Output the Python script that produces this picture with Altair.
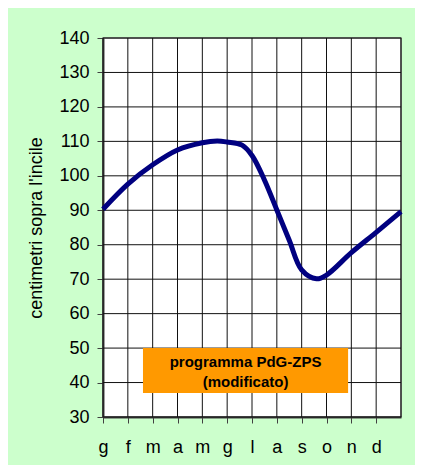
import json
import altair as alt
import pandas as pd

# --- data ---
months = ["g", "f", "m", "a", "m", "g", "l", "a", "s", "o", "n", "d"]
pos = [0, 1, 2, 3, 4, 4.6, 5, 5.6, 6, 6.5, 7, 7.5, 8, 8.6, 9, 10, 11, 12]
level = [90.3, 97.6, 103.2, 107.5, 109.6, 110.1, 109.8, 108.9, 105.9, 98.8,
         90.1, 81.3, 72.7, 70.1, 71.2, 77.7, 83.6, 89.6]
box_x = [1.61, 9.87]
box_y = [37.0, 50.0]
box_lines = ["programma PdG-ZPS", "(modificato)"]
box_line_y = [46.0, 40.2]
y_ticks = list(range(30, 141, 10))

df = pd.DataFrame({"pos": pos, "level": level})
box_df = pd.DataFrame({"x": [box_x[0]], "x2": [box_x[1]], "y": [box_y[0]], "y2": [box_y[1]]})
txt_df = pd.DataFrame({"x": [(box_x[0] + box_x[1]) / 2] * 2, "y": box_line_y, "t": box_lines})

FONT = "Liberation Sans"
label_expr = "datum.value < 12 ? " + json.dumps(months) + "[datum.value] : ''"

xscale = alt.Scale(domain=[0, 12], nice=False, zero=False)
yscale = alt.Scale(domain=[30, 140], nice=False, zero=False)

xaxis = alt.Axis(values=list(range(12)), labelExpr=label_expr, title=None,
                 grid=False, labelFontSize=18, labelPadding=15, tickSize=6,
                 labelFont=FONT, labelColor="black", tickColor="#404040",
                 domainColor="#404040", domainWidth=2, labelFlush=False,
                 labelOverlap=False)
yaxis = alt.Axis(values=y_ticks, title="centimetri sopra l'incile", grid=False,
                 labelFontSize=18, labelPadding=8, tickSize=6, labelFont=FONT,
                 labelColor="black", tickColor="#404040", domainColor="#404040",
                 domainWidth=2, titleFont=FONT, titleFontSize=18,
                 titleFontWeight="normal", titleColor="black", titleX=-67,
                 titleBaseline="middle", labelOverlap=False, labelFlush=False)

grid_x = alt.Chart(pd.DataFrame({"g": list(range(13))})).mark_rule(
    color="#111111", strokeWidth=1).encode(x=alt.X("g:Q", scale=xscale, axis=xaxis))
grid_y = alt.Chart(pd.DataFrame({"g": y_ticks})).mark_rule(
    color="#111111", strokeWidth=1).encode(y=alt.Y("g:Q", scale=yscale, axis=yaxis))

line = alt.Chart(df).mark_line(color="#000080", strokeWidth=5,
                               interpolate="catmull-rom").encode(
    x=alt.X("pos:Q", scale=xscale, axis=xaxis),
    y=alt.Y("level:Q", scale=yscale, axis=yaxis))

box = alt.Chart(box_df).mark_rect(color="#FF9900").encode(
    x=alt.X("x:Q", scale=xscale, axis=xaxis), x2="x2:Q",
    y=alt.Y("y:Q", scale=yscale, axis=yaxis), y2="y2:Q")

txt = alt.Chart(txt_df).mark_text(font=FONT, fontSize=15, fontWeight="bold",
                                  color="black", baseline="middle", align="center").encode(
    x=alt.X("x:Q", scale=xscale, axis=xaxis), y=alt.Y("y:Q", scale=yscale, axis=yaxis),
    text="t:N")

chart = alt.layer(grid_x, grid_y, line, box, txt).properties(
    width=298, height=379,
    padding={"left": 95, "top": 30, "right": 14, "bottom": 48},
    autosize=alt.AutoSizeParams(type="none"),
    background="#CCFFCC",
).configure_view(fill="white", stroke="#707070", strokeWidth=1.5
).configure_axis(labelOverlap=False)

chart.save("out.html", embed_options={"renderer": "svg", "actions": False})
